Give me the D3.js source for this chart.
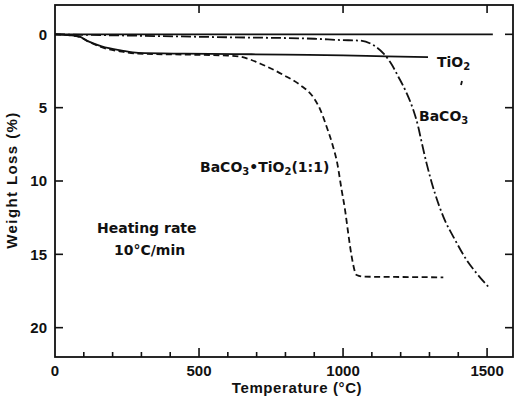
<!DOCTYPE html>
<html>
<head>
<meta charset="utf-8">
<script src="https://cdn.jsdelivr.net/npm/d3@7"></script>
<style>
  body { margin: 0; background: #fff; }
  text { font-family: "Liberation Sans", Arial, sans-serif; font-weight: bold; fill: #111; }
  text.note { font-family: "DejaVu Sans", sans-serif; }
</style>
</head>
<body>
<div id="chart"></div>
<script>
// tick labels
var tempTicks = [0, 500, 1000, 1500];
var lossTicks = [0, 5, 10, 15, 20];

// zero reference line
var zeroTemp = [0, 1520];
var zeroLoss = [0, 0];

// TiO2 (solid)
var tio2Temp = [0, 81, 116, 162, 232, 289, 450, 625, 800, 1000, 1150, 1295];
var tio2Loss = [0, 0.13, 0.48, 0.82, 1.11, 1.27, 1.32, 1.35, 1.38, 1.43, 1.5, 1.55];

// BaCO3 (dash-dot)
var bacoTemp = [0, 300, 600, 900, 989, 1059, 1105, 1140, 1163, 1192, 1221, 1244, 1261, 1270, 1290, 1319, 1348, 1389, 1429, 1464, 1504];
var bacoLoss = [0, 0.1, 0.2, 0.3, 0.39, 0.43, 0.73, 1.3, 1.87, 2.89, 4.02, 5.16, 6.3, 7.1, 8.8, 10.84, 12.43, 14.02, 15.39, 16.3, 17.2];

// BaCO3 + TiO2 (1:1) (dashed)
var mixTemp = [0, 81, 116, 162, 232, 289, 450, 600, 642, 723, 793, 851, 897, 920, 943, 963, 980, 995, 1007, 1018, 1030, 1047, 1070, 1232, 1348];
var mixLoss = [0, 0.15, 0.5, 0.88, 1.18, 1.32, 1.38, 1.45, 1.52, 2.09, 2.77, 3.45, 4.3, 5.1, 6.3, 7.5, 8.8, 10.6, 11.98, 13.57, 15.16, 16.41, 16.52, 16.55, 16.57];

var width = 517, height = 399;
var pLeft = 55, pRight = 513, pTop = 5, pBottom = 357;

var svg = d3.select("#chart").append("svg")
    .attr("width", width)
    .attr("height", height);

var x = d3.scaleLinear().domain([0, 1590]).range([pLeft, pRight]);
var y = d3.scaleLinear().domain([-2, 22]).range([pTop, pBottom]);

// frame
svg.append("rect")
    .attr("x", pLeft).attr("y", pTop)
    .attr("width", pRight - pLeft).attr("height", pBottom - pTop)
    .attr("fill", "none").attr("stroke", "#111").attr("stroke-width", 1.8);

// bottom ticks (every 100, long at 500s)
var g = svg.append("g").attr("stroke", "#111").attr("stroke-width", 1.6);
g.selectAll(".xb").data(d3.range(100, 1600, 100)).enter().append("line")
    .attr("x1", x).attr("x2", x)
    .attr("y1", pBottom)
    .attr("y2", function (d) { return d % 500 == 0 ? pBottom - 9 : pBottom - 5; });

// top ticks
g.selectAll(".xt").data(tempTicks.slice(1)).enter().append("line")
    .attr("x1", x).attr("x2", x)
    .attr("y1", pTop).attr("y2", pTop + 8);

// left / right ticks
g.selectAll(".yl").data(lossTicks.slice(1)).enter().append("line")
    .attr("x1", pLeft).attr("x2", pLeft + 8)
    .attr("y1", y).attr("y2", y);
g.selectAll(".yr").data(lossTicks).enter().append("line")
    .attr("x1", pRight).attr("x2", pRight - 8)
    .attr("y1", y).attr("y2", y);

// tick labels
svg.selectAll(".xl").data(tempTicks).enter().append("text")
    .attr("x", x).attr("y", 376)
    .attr("text-anchor", "middle")
    .style("font-size", "15px")
    .text(function (d) { return d; });

svg.selectAll(".ylab").data(lossTicks).enter().append("text")
    .attr("x", 47).attr("y", y)
    .attr("dy", "0.36em")
    .attr("text-anchor", "end")
    .style("font-size", "15px")
    .text(function (d) { return d; });

// axis titles
svg.append("text")
    .attr("x", 297).attr("y", 393)
    .attr("text-anchor", "middle")
    .style("font-size", "15px").style("letter-spacing", "0.6px")
    .text("Temperature (°C)");

svg.append("text")
    .attr("transform", "translate(17,180)rotate(-90)")
    .attr("text-anchor", "middle")
    .style("font-size", "15px").style("letter-spacing", "1.4px")
    .text("Weight Loss (%)");

// curves
var line = d3.line()
    .x(function (d) { return x(d[0]); })
    .y(function (d) { return y(d[1]); })
    .curve(d3.curveMonotoneX);

function pairs(a, b) { return a.map(function (v, i) { return [v, b[i]]; }); }

var curves = [
    { pts: pairs(zeroTemp, zeroLoss), dash: null },
    { pts: pairs(tio2Temp, tio2Loss), dash: null },
    { pts: pairs(bacoTemp, bacoLoss), dash: "10 3 2 3" },
    { pts: pairs(mixTemp, mixLoss), dash: "6 3.5" }
];

svg.selectAll(".curve").data(curves).enter().append("path")
    .attr("d", function (d) { return line(d.pts); })
    .attr("fill", "none")
    .attr("stroke", "#111")
    .attr("stroke-width", 1.8)
    .attr("stroke-dasharray", function (d) { return d.dash; });

// labels with subscripts
function label(xp, yp, parts) {
    var t = svg.append("text").attr("class", "note")
        .attr("x", xp).attr("y", yp).style("font-size", "14px");
    parts.forEach(function (p) {
        var s = t.append("tspan").text(p[0]);
        if (p[1]) s.attr("dy", 3).style("font-size", "10px");
        else if (p[2]) s.attr("dy", -3);
    });
}
label(437, 67, [["TiO"], ["2", true]]);
label(419, 121, [["BaCO"], ["3", true]]);
label(200, 172, [["BaCO"], ["3", true], ["•TiO", false, true], ["2", true], ["(1:1)", false, true]]);

svg.append("text").attr("class", "note").attr("x", 97).attr("y", 233)
    .style("font-size", "14px").text("Heating rate");
svg.append("text").attr("class", "note").attr("x", 114).attr("y", 255)
    .style("font-size", "14px").text("10°C/min");

// small mark near TiO2 label
svg.append("line")
    .attr("x1", 462).attr("y1", 81).attr("x2", 461).attr("y2", 85)
    .attr("stroke", "#111").attr("stroke-width", 1.8);
</script>
</body>
</html>
